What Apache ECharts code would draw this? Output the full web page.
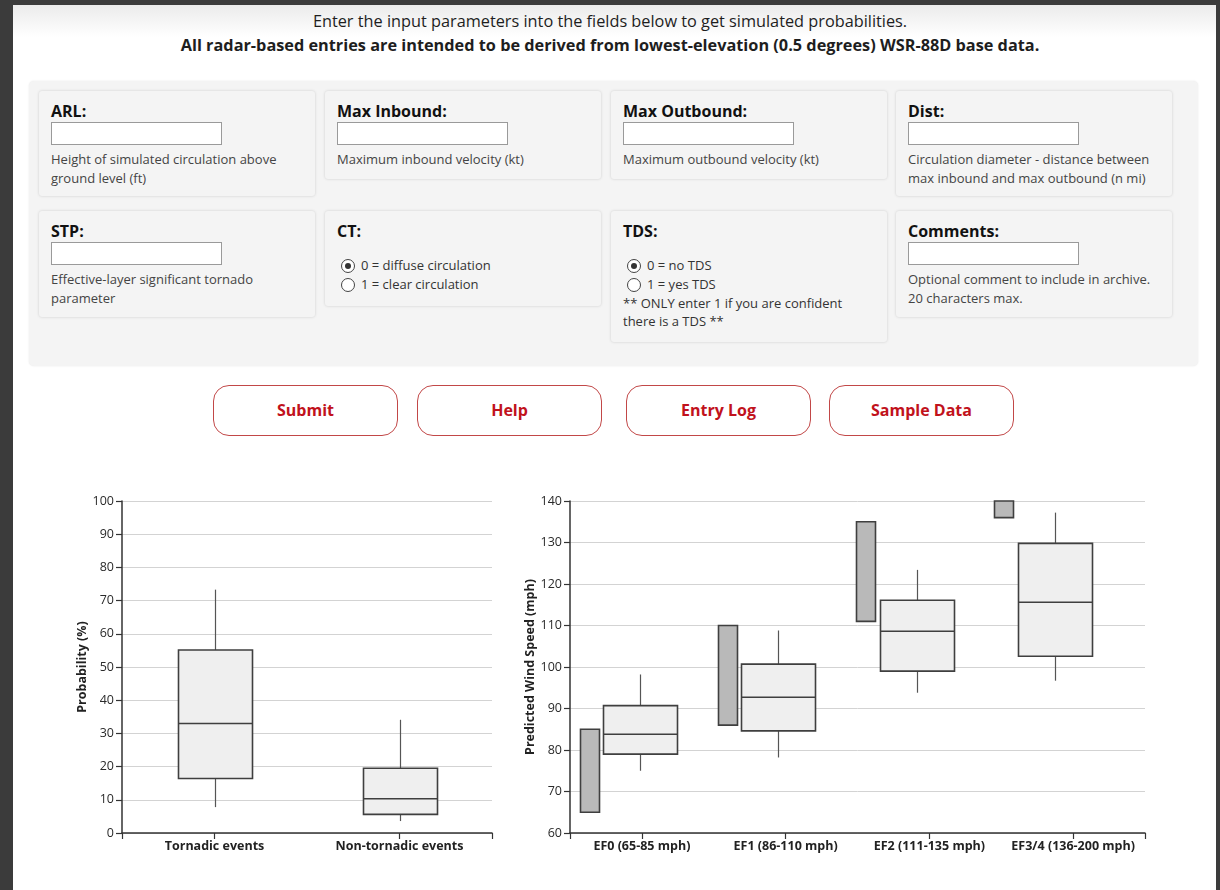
<!DOCTYPE html>
<html>
<head>
<meta charset="utf-8">
<script src="https://cdn.jsdelivr.net/npm/echarts@6/dist/echarts.min.js"></script>
<style>
  html, body { margin: 0; padding: 0; width: 1220px; height: 890px; overflow: hidden; background: #fff; font-family: "Open Sans", "Noto Sans", sans-serif; color: #222; }
  .frame { position: absolute; background: #3b3b3b; z-index: 10; }
  .topshade { position: absolute; left: 13px; top: 5px; width: 1203px; height: 32px; background: linear-gradient(#ebebeb, #ffffff); }
  .header { position: absolute; left: 0; top: 9px; width: 1220px; text-align: center; font-size: 16.3px; line-height: 24px; color: #1e1e1e; }
  .header b { font-weight: 700; }
  .panel { position: absolute; left: 29px; top: 81px; width: 1169px; height: 285px; background: #f4f4f4; border-radius: 5px; box-shadow: 0 0 2px rgba(0,0,0,0.10); }
  .card { position: absolute; width: 276px; box-sizing: border-box; padding: 10px 12px 0 12px; background: #f4f4f4; border-radius: 3px; box-shadow: 0 0 3px rgba(0,0,0,0.16); }
  .card .lab { font-size: 16px; font-weight: 700; line-height: 21px; color: #111; }
  .card .inp { width: 171px; height: 23px; box-sizing: border-box; border: 1px solid #9a9a9a; background: #fff; }
  .card .desc { margin-top: 5px; font-size: 13px; line-height: 18.5px; color: #444; }
  .radios { margin-top: 14px; font-size: 13px; line-height: 18.8px; color: #333; }
  .radio { position: relative; padding-left: 24px; }
  .radio .c { position: absolute; left: 4px; top: 3px; width: 12px; height: 12px; border: 1px solid #444; border-radius: 50%; background: #fff; }
  .radio .c.on::after { content: ""; position: absolute; left: 3px; top: 3px; width: 6px; height: 6px; border-radius: 50%; background: #333; }
  .note { font-size: 13px; line-height: 18px; color: #333; }
  .btn { position: absolute; top: 385px; width: 185px; height: 51px; box-sizing: border-box; border: 1px solid #c24848; border-radius: 16px; background: #fff; color: #c1121c; font-weight: 700; font-size: 16px; line-height: 49px; text-align: center; }
  #chart { position: absolute; left: 0; top: 470px; width: 1220px; height: 420px; }
</style>
</head>
<body>
<div class="topshade"></div>
<div class="frame" style="left:0;top:0;width:13px;height:890px"></div>
<div class="frame" style="left:1216px;top:0;width:4px;height:890px"></div>
<div class="frame" style="left:0;top:0;width:1220px;height:5px"></div>

<div class="header">Enter the input parameters into the fields below to get simulated probabilities.<br><b>All radar-based entries are intended to be derived from lowest-elevation (0.5 degrees) WSR-88D base data.</b></div>

<div class="panel"></div>
<div class="card" style="left:39px;top:91px;height:105px"><div class="lab">ARL:</div><div class="inp"></div><div class="desc">Height of simulated circulation above<br>ground level (ft)</div></div>
<div class="card" style="left:325px;top:91px;height:88px"><div class="lab">Max Inbound:</div><div class="inp"></div><div class="desc">Maximum inbound velocity (kt)</div></div>
<div class="card" style="left:611px;top:91px;height:88px"><div class="lab">Max Outbound:</div><div class="inp"></div><div class="desc">Maximum outbound velocity (kt)</div></div>
<div class="card" style="left:896px;top:91px;height:105px"><div class="lab">Dist:</div><div class="inp"></div><div class="desc">Circulation diameter - distance between<br>max inbound and max outbound (n mi)</div></div>

<div class="card" style="left:39px;top:211px;height:106px"><div class="lab">STP:</div><div class="inp"></div><div class="desc">Effective-layer significant tornado<br>parameter</div></div>
<div class="card" style="left:325px;top:211px;height:95px"><div class="lab">CT:</div><div class="radios"><div class="radio"><span class="c on"></span>0 = diffuse circulation</div><div class="radio"><span class="c"></span>1 = clear circulation</div></div></div>
<div class="card" style="left:611px;top:211px;height:131px"><div class="lab">TDS:</div><div class="radios"><div class="radio"><span class="c on"></span>0 = no TDS</div><div class="radio"><span class="c"></span>1 = yes TDS</div></div><div class="note">** ONLY enter 1 if you are confident<br>there is a TDS **</div></div>
<div class="card" style="left:896px;top:211px;height:106px"><div class="lab">Comments:</div><div class="inp"></div><div class="desc">Optional comment to include in archive.<br>20 characters max.</div></div>

<div class="btn" style="left:213px">Submit</div>
<div class="btn" style="left:417px">Help</div>
<div class="btn" style="left:626px">Entry Log</div>
<div class="btn" style="left:829px">Sample Data</div>

<div id="chart"></div>

<script>
// ---- Data: left chart (probability box plots) ----
const probCategories = ['Tornadic events', 'Non-tornadic events'];
const probMin    = [7.8, 3.6];
const probQ1     = [16.4, 5.6];
const probMedian = [33.0, 10.3];
const probQ3     = [55.1, 19.5];
const probMax    = [73.3, 34.1];

// ---- Data: right chart (predicted wind speed) ----
const efCategories = ['EF0 (65-85 mph)', 'EF1 (86-110 mph)', 'EF2 (111-135 mph)', 'EF3/4 (136-200 mph)'];
const efRangeLow  = [65, 86, 111, 136];
const efRangeHigh = [85, 110, 135, 200];
const windMin    = [75.0, 78.2, 93.8, 96.7];
const windQ1     = [79.0, 84.6, 99.0, 102.6];
const windMedian = [83.8, 92.7, 108.6, 115.6];
const windQ3     = [90.7, 100.7, 116.1, 129.8];
const windMax    = [98.2, 108.8, 123.4, 137.2];

// ---- Axis ranges ----
const probAxis = { min: 0, max: 100, interval: 10 };
const windAxis = { min: 60, max: 140, interval: 10 };

const FONT = '"Open Sans", "Noto Sans", sans-serif';
const AXIS_COLOR = '#333';
const BOX_STROKE = '#3f3f3f';

function boxRenderer(boxWidth) {
  return function (params, api) {
    const cs = params.coordSys;
    const clampY = y => Math.max(cs.y, Math.min(cs.y + cs.height, y));
    const i = api.value(0);
    const pMin = api.coord([i, api.value(1)]);
    const pQ1 = api.coord([i, api.value(2)]);
    const pMed = api.coord([i, api.value(3)]);
    const pQ3 = api.coord([i, api.value(4)]);
    const pMax = api.coord([i, api.value(5)]);
    const cx = Math.round(pMin[0]) + 0.5;
    const yMin = clampY(pMin[1]), yQ1 = clampY(pQ1[1]), yMed = clampY(pMed[1]), yQ3 = clampY(pQ3[1]), yMax = clampY(pMax[1]);
    const lineStyle = { stroke: '#555', lineWidth: 1.2 };
    return {
      type: 'group',
      children: [
        { type: 'line', shape: { x1: cx, y1: yMax, x2: cx, y2: yQ3 }, style: lineStyle },
        { type: 'line', shape: { x1: cx, y1: yQ1, x2: cx, y2: yMin }, style: lineStyle },
        { type: 'rect', shape: { x: cx - boxWidth / 2, y: yQ3, width: boxWidth, height: yQ1 - yQ3 },
          style: { fill: '#efefef', stroke: BOX_STROKE, lineWidth: 1.6 } },
        { type: 'line', shape: { x1: cx - boxWidth / 2, y1: yMed, x2: cx + boxWidth / 2, y2: yMed },
          style: { stroke: BOX_STROKE, lineWidth: 1.6 } }
      ]
    };
  };
}

function rangeRenderer(barWidth, offsetRatio) {
  return function (params, api) {
    const cs = params.coordSys;
    const clampY = y => Math.max(cs.y, Math.min(cs.y + cs.height, y));
    const i = api.value(0);
    const pLow = api.coord([i, api.value(1)]);
    const pHigh = api.coord([i, api.value(2)]);
    const band = api.size([1, 0])[0];
    const cx = pLow[0] + offsetRatio * band;
    const yLow = clampY(pLow[1]), yHigh = clampY(pHigh[1]);
    return {
      type: 'rect',
      shape: { x: Math.round(cx - barWidth / 2) + 0.5, y: yHigh, width: barWidth, height: yLow - yHigh },
      style: { fill: '#b9b9b9', stroke: BOX_STROKE, lineWidth: 1.6 }
    };
  };
}

const probData = probCategories.map((c, i) => [i, probMin[i], probQ1[i], probMedian[i], probQ3[i], probMax[i]]);
const windData = efCategories.map((c, i) => [i, windMin[i], windQ1[i], windMedian[i], windQ3[i], windMax[i]]);
const rangeData = efCategories.map((c, i) => [i, efRangeLow[i], efRangeHigh[i]]);

const catAxisCommon = {
  type: 'category',
  axisLine: { show: true, lineStyle: { color: AXIS_COLOR, width: 1.5 } },
  axisTick: { show: true, alignWithLabel: true, interval: 0, length: 6, lineStyle: { color: AXIS_COLOR, width: 1.2 } },
  axisLabel: { interval: 0, color: '#222', fontFamily: FONT, fontSize: 12.5, fontWeight: 'bold', margin: 7 },
  splitLine: { show: false }
};
const endTickAxis = {
  type: 'value', min: 0, max: 1, interval: 1, position: 'bottom',
  axisLine: { show: false },
  axisTick: { show: true, length: 6, lineStyle: { color: AXIS_COLOR, width: 1.2 } },
  axisLabel: { show: false },
  splitLine: { show: false }
};
const valAxisCommon = {
  type: 'value',
  nameLocation: 'middle',
  nameGap: 30,
  nameTextStyle: { color: '#222', fontFamily: FONT, fontSize: 12.5, fontWeight: 'bold' },
  axisLine: { show: true, lineStyle: { color: AXIS_COLOR, width: 1.5 } },
  axisTick: { show: true, length: 6, lineStyle: { color: AXIS_COLOR, width: 1.2 } },
  axisLabel: { color: '#2a2a2a', fontFamily: FONT, fontSize: 12.5, margin: 8 },
  splitLine: { show: true, lineStyle: { color: '#d3d3d3', width: 1 } }
};

const chart = echarts.init(document.getElementById('chart'), null, { renderer: 'canvas' });
chart.setOption({
  animation: false,
  grid: [
    { left: 122, top: 31, width: 370, height: 332 },
    { left: 570, top: 31, width: 575, height: 332 },
    { left: 571, top: 31, width: 553, height: 332 }
  ],
  xAxis: [
    Object.assign({}, catAxisCommon, { gridIndex: 0, data: probCategories }),
    Object.assign({}, endTickAxis, { gridIndex: 0 }),
    Object.assign({}, catAxisCommon, { gridIndex: 1, data: efCategories }),
    Object.assign({}, endTickAxis, { gridIndex: 1 }),
    { type: 'category', gridIndex: 2, data: efCategories, show: false }
  ],
  yAxis: [
    Object.assign({}, valAxisCommon, { gridIndex: 0, name: 'Probability (%)' }, probAxis),
    Object.assign({}, valAxisCommon, { gridIndex: 1, name: 'Predicted Wind Speed (mph)' }, windAxis),
    Object.assign({ type: 'value', gridIndex: 2, show: false, splitLine: { show: false } }, windAxis)
  ],
  series: [
    { type: 'custom', name: 'Probability', xAxisIndex: 0, yAxisIndex: 0, renderItem: boxRenderer(74),
      encode: { x: 0, y: [1, 2, 3, 4, 5] }, data: probData, clip: false, z: 5 },
    { type: 'custom', name: 'EF range', xAxisIndex: 4, yAxisIndex: 2, renderItem: rangeRenderer(19, -0.369),
      encode: { x: 0, y: [1, 2] }, data: rangeData, clip: false, z: 5 },
    { type: 'custom', name: 'Predicted wind', xAxisIndex: 4, yAxisIndex: 2, renderItem: boxRenderer(74),
      encode: { x: 0, y: [1, 2, 3, 4, 5] }, data: windData, clip: false, z: 5 }
  ]
});
</script>
</body>
</html>
